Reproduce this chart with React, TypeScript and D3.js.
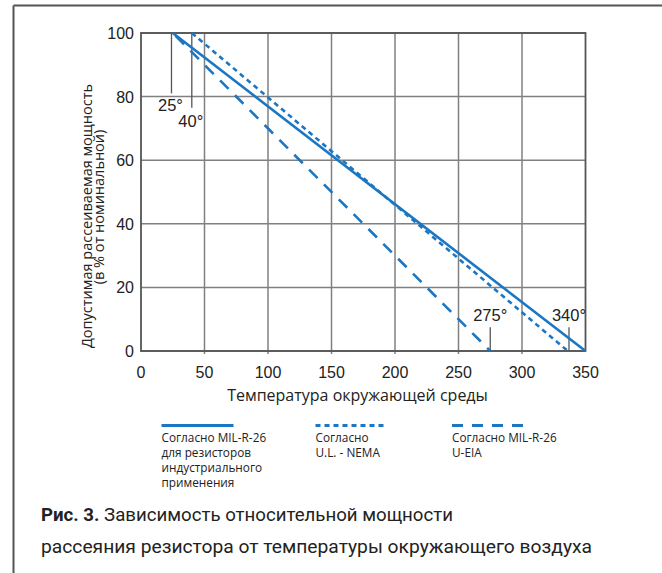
import React from "react";
import * as d3 from "d3";

const xTicks = [0, 50, 100, 150, 200, 250, 300, 350];
const yTicks = [0, 20, 40, 60, 80, 100];
const xGrid = [50, 100, 150, 200, 250, 300];

const milSolid = [
  { t: 25, p: 100 },
  { t: 350, p: 0 },
];
const ulNema = [
  { t: 40, p: 100 },
  { t: 336, p: 0 },
];
const uEia = [
  { t: 25, p: 100 },
  { t: 275, p: 0 },
];

const topMarkers = [
  { t: 24, p: 81, label: "25°", labelP: 75.5 },
  { t: 40, p: 76.5, label: "40°", labelP: 70.5 },
];
const bottomMarkers = [
  { t: 275, p: 7.5, label: "275°", labelP: 9.5 },
  { t: 337, p: 7.5, label: "340°", labelP: 9.5 },
];

const legendItems = [
  { lines: ["Согласно MIL-R-26", "для резисторов", "индустриального", "применения"], dash: "none" },
  { lines: ["Согласно", "U.L. - NEMA"], dash: "5 4" },
  { lines: ["Согласно MIL-R-26", "U-EIA"], dash: "11 9" },
];

const yTitle = ["Допустимая рассеиваемая мощность", "(в % от номинальной)"];
const xTitle = "Температура окружающей среды";
const captionBold = "Рис. 3.";
const captionLine1 = "Зависимость относительной мощности";
const captionLine2 = "рассеяния резистора от температуры окружающего воздуха";

const BLUE = "#1b76c4";
const GRID = "#808080";
const FRAME = "#555";
const TICKFONT = "'Liberation Sans', Arial, sans-serif";
const TEXTFONT = "'Open Sans', 'Noto Sans', sans-serif";
const CAPFONT = "Roboto, 'Liberation Sans', sans-serif";

export default function App() {
  const W = 662;
  const H = 573;
  const left = 141;
  const right = 585.5;
  const top = 33;
  const bottom = 351;
  const x = d3.scaleLinear().domain([0, 350]).range([left, right]);
  const y = d3.scaleLinear().domain([0, 100]).range([bottom, top]);
  const line = d3
    .line<{ t: number; p: number }>()
    .x((d) => x(d.t))
    .y((d) => y(d.p));

  const legendX = [161.5, 315.5, 452];
  const legendLineY = 425.5;

  return (
    <svg
      width={W}
      height={H}
      style={{ position: "absolute", left: 0, top: 0, background: "#fff" }}
    >
      {/* frame */}
      <line x1={13.5} y1={5.5} x2={W} y2={5.5} stroke={FRAME} strokeWidth={2} />
      <line x1={13.5} y1={5.5} x2={13.5} y2={H} stroke={FRAME} strokeWidth={2} />

      {/* grid */}
      {yTicks.map((v) => (
        <line key={"hy" + v} x1={left} x2={right} y1={y(v)} y2={y(v)} stroke={GRID} strokeWidth={1.5} />
      ))}
      {xGrid.map((v) => (
        <line key={"vx" + v} x1={x(v)} x2={x(v)} y1={top} y2={bottom + 3} stroke={GRID} strokeWidth={1.5} />
      ))}
      <rect x={left} y={top} width={right - left} height={bottom - top} fill="none" stroke={FRAME} strokeWidth={1.8} />

      {/* marker lines */}
      {topMarkers.map((m) => (
        <g key={m.label}>
          <line x1={x(m.t)} x2={x(m.t)} y1={y(100)} y2={y(m.p)} stroke={FRAME} strokeWidth={1.3} />
          <text x={x(m.t) - 1} y={y(m.labelP)} textAnchor="middle" fontFamily={TICKFONT} fontSize={16.5} fill="#222">
            {m.label}
          </text>
        </g>
      ))}
      {bottomMarkers.map((m) => (
        <g key={m.label}>
          <line x1={x(m.t)} x2={x(m.t)} y1={y(0)} y2={y(m.p)} stroke={FRAME} strokeWidth={1.3} />
          <text x={x(m.t)} y={y(m.labelP)} textAnchor="middle" fontFamily={TICKFONT} fontSize={16.5} fill="#222">
            {m.label}
          </text>
        </g>
      ))}

      {/* series */}
      <path d={line(milSolid) ?? ""} fill="none" stroke={BLUE} strokeWidth={2.6} />
      <path d={line(ulNema) ?? ""} fill="none" stroke={BLUE} strokeWidth={2.6} strokeDasharray="5 4" />
      <path d={line(uEia) ?? ""} fill="none" stroke={BLUE} strokeWidth={2.6} strokeDasharray="12 9" strokeDashoffset={-4} />

      {/* tick labels */}
      {yTicks.map((v) => (
        <text key={"yl" + v} x={left - 7} y={y(v) + 6} textAnchor="end" fontFamily={TICKFONT} fontSize={16} fill="#222">
          {v}
        </text>
      ))}
      {xTicks.map((v) => (
        <text key={"xl" + v} x={x(v)} y={377.5} textAnchor="middle" fontFamily={TICKFONT} fontSize={16} fill="#222">
          {v}
        </text>
      ))}

      {/* axis titles */}
      <text x={357.5} y={401} textAnchor="middle" fontFamily={TEXTFONT} fontSize={16} fill="#222">
        {xTitle}
      </text>
      <text transform="translate(92,216) rotate(-90)" textAnchor="middle" fontFamily={TEXTFONT} fontSize={14.5} fill="#222">
        {yTitle[0]}
      </text>
      <text transform="translate(104,207) rotate(-90)" textAnchor="middle" fontFamily={TEXTFONT} fontSize={14.5} fill="#222">
        {yTitle[1]}
      </text>

      {/* legend */}
      {legendItems.map((it, i) => (
        <g key={"lg" + i}>
          <line
            x1={legendX[i]}
            x2={legendX[i] + 72}
            y1={legendLineY}
            y2={legendLineY}
            stroke={BLUE}
            strokeWidth={3}
            strokeDasharray={it.dash}
          />
          {it.lines.map((l, j) => (
            <text key={j} x={legendX[i]} y={442 + j * 15} fontFamily={TEXTFONT} fontSize={11.8} fill="#222">
              {l}
            </text>
          ))}
        </g>
      ))}

      {/* caption */}
      <text x={41} y={521} fontFamily={CAPFONT} fontSize={19} fill="#222" textLength={412} lengthAdjust="spacingAndGlyphs">
        <tspan fontWeight="bold">{captionBold}</tspan>
        <tspan> {captionLine1}</tspan>
      </text>
      <text x={41} y={553} fontFamily={CAPFONT} fontSize={19} fill="#222" textLength={551} lengthAdjust="spacingAndGlyphs">
        {captionLine2}
      </text>
    </svg>
  );
}
